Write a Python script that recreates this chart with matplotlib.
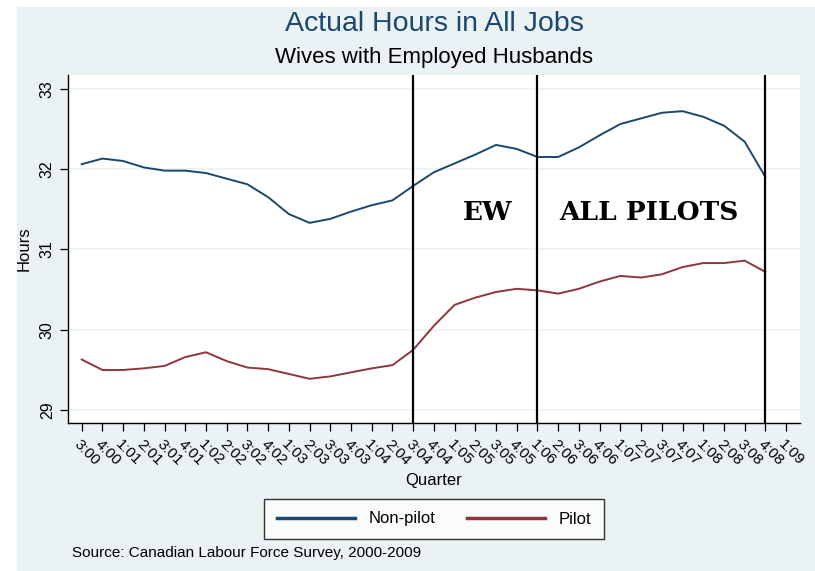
import numpy as np
import matplotlib
matplotlib.use("Agg")
from matplotlib import pyplot as plt
from matplotlib.patches import Rectangle

# quarter labels (q:yy)
quarters = ["3:00", "4:00", "1:01", "2:01", "3:01", "4:01", "1:02", "2:02", "3:02", "4:02",
            "1:03", "2:03", "3:03", "4:03", "1:04", "2:04", "3:04", "4:04", "1:05", "2:05",
            "3:05", "4:05", "1:06", "2:06", "3:06", "4:06", "1:07", "2:07", "3:07", "4:07",
            "1:08", "2:08", "3:08", "4:08", "1:09"]

# hours, 3:00 .. 4:08
non_pilot = [32.06, 32.13, 32.10, 32.02, 31.98, 31.98, 31.95, 31.88, 31.81, 31.65,
             31.44, 31.33, 31.38, 31.47, 31.55, 31.61, 31.79, 31.96, 32.07, 32.18,
             32.30, 32.25, 32.15, 32.15, 32.27, 32.42, 32.56, 32.63, 32.70, 32.72,
             32.65, 32.54, 32.34, 31.90]
pilot = [29.63, 29.50, 29.50, 29.52, 29.55, 29.66, 29.72, 29.61, 29.53, 29.51,
         29.45, 29.39, 29.42, 29.47, 29.52, 29.56, 29.75, 30.05, 30.31, 30.40,
         30.47, 30.51, 30.49, 30.45, 30.51, 30.60, 30.67, 30.65, 30.69, 30.78,
         30.83, 30.83, 30.86, 30.72]

# periods marked by vertical lines
markers = ["3:04", "1:06", "4:08"]
period_labels = ["EW", "ALL PILOTS"]

navy = "#1a476f"
maroon = "#90353b"
bg = "#eaf2f3"

plt.rcParams['font.family'] = ['Liberation Sans', 'DejaVu Sans']

fig = plt.figure(figsize=(8.15, 5.71), dpi=100)
fig.patch.set_facecolor("white")
fig.patches.append(Rectangle((17 / 815, 0), 1 - 17 / 815, 1 - 7 / 571,
                             transform=fig.transFigure, color=bg, zorder=-10))

ax = fig.add_axes([68 / 815, 148 / 571, 732 / 815, 348 / 571])
ax.set_facecolor("white")

x = np.arange(len(quarters))
xd = np.arange(len(non_pilot))
ax.plot(xd, non_pilot, color=navy, lw=1.4, label="Non-pilot", zorder=3)
ax.plot(xd, pilot, color=maroon, lw=1.4, label="Pilot", zorder=3)

for q in markers:
    ax.axvline(quarters.index(q), color="black", lw=1.6, zorder=4)

# period labels between the vertical lines
ax.text(19.6, 31.46, period_labels[0], family="DejaVu Serif", weight="bold",
        fontsize=19, ha="center", va="center")
ax.text(27.4, 31.46, period_labels[1], family="DejaVu Serif", weight="bold",
        fontsize=19, ha="center", va="center")

ax.set_xlim(-0.66, 34.67)
ax.set_ylim(28.84, 33.17)
ax.set_yticks([29, 30, 31, 32, 33])
ax.set_yticklabels(["29", "30", "31", "32", "33"], rotation=90, va="center", fontsize=11.5)
for yv in [29, 30, 31, 32, 33]:
    ax.axhline(yv, color=bg, lw=1.2, zorder=1)

ax.set_xticks(x)
ax.set_xticklabels(quarters, rotation=-45, ha="left", va="top",
                   rotation_mode="anchor", fontsize=11)
ax.tick_params(axis="both", direction="out", length=6, width=0.9, color="black")
ax.tick_params(axis="x", pad=4)

for s in ["top", "right"]:
    ax.spines[s].set_visible(False)
for s in ["left", "bottom"]:
    ax.spines[s].set_linewidth(1.0)

ax.set_ylabel("Hours", fontsize=12, labelpad=6)
ax.set_xlabel("Quarter", fontsize=12, labelpad=4)

fig.text(434 / 815, 1 - 24 / 571, "Actual Hours in All Jobs", ha="center", va="center",
         fontsize=20.5, color=navy)
fig.text(434 / 815, 1 - 58 / 571, "Wives with Employed Husbands", ha="center", va="center",
         fontsize=16, color="black")

leg = fig.legend(loc="center", bbox_to_anchor=(434 / 815, 1 - 519 / 571), ncol=2,
                 fontsize=12, frameon=True, fancybox=False, handlelength=4.7,
                 columnspacing=1.9, handletextpad=0.8, borderpad=0.75)
leg.get_frame().set_edgecolor("black")
leg.get_frame().set_linewidth(1.0)
for ln in leg.get_lines():
    ln.set_linewidth(2.5)

fig.text(72 / 815, 1 - 553 / 571, "Source: Canadian Labour Force Survey, 2000-2009",
         ha="left", va="center", fontsize=11)

plt.savefig("out.png", dpi=100)
